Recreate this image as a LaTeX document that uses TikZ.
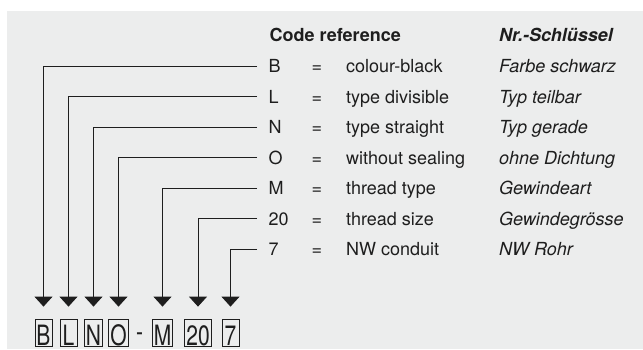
\documentclass[tikz,border=0pt]{standalone}
\usepackage{fontspec}
\setmainfont{TeX Gyre Heros}
\newfontfamily\boxfont[FakeStretch=0.75]{TeX Gyre Heros}
\usepackage{xcolor}
\usepackage{tikz}
\usetikzlibrary{arrows.meta, positioning}
\definecolor{panelgray}{RGB}{236,237,237}
\definecolor{inkgray}{RGB}{30,30,30}
\tikzstyle{code} = [anchor=base west, inner sep=0pt, outer xsep=11.5pt, text height=12.8pt, text depth=0pt, text=inkgray, font=\fontsize{18}{20}\selectfont]
\tikzstyle{eq} = [anchor=base, inner sep=0pt, text=inkgray, font=\fontsize{18}{20}\selectfont]
\tikzstyle{desc} = [anchor=base west, inner sep=0pt, text=inkgray, font=\fontsize{18}{20}\selectfont]
\tikzstyle{transl} = [anchor=base west, inner sep=0pt, text=inkgray, font=\fontsize{18}{20}\selectfont\itshape]
\tikzstyle{head} = [anchor=base west, inner sep=0pt, text=inkgray, font=\fontsize{18}{20}\selectfont\bfseries]
\tikzstyle{keybox} = [draw=inkgray, line width=0.8pt, inner xsep=1.5pt, inner ysep=0pt, minimum width=17pt, text height=25.7pt, text depth=1.7pt, text=inkgray, font=\boxfont\fontsize{28}{28}\selectfont]
\tikzstyle{arrow} = [draw=inkgray, line width=0.9pt, -{Triangle[width=18pt,length=10pt]}, shorten >=12.3pt]

\begin{document}
\begin{tikzpicture}[x=1pt, y=-1pt]
\useasboundingbox (0,0) rectangle (643,349);
\fill[panelgray] (7,11) rectangle (643,349);

% Heading
\node (hcode) [head] at (269.5,41.5) {Code reference};
\node (hkey) [head] at (499,41.5) {\itshape Nr.-Schlüssel};

% Nodes
\node (kB) [code] at (257,72.5) {B};
\node (kL) [code] at (257,103) {L};
\node (kN) [code] at (257,133.5) {N};
\node (kO) [code] at (257,164) {O};
\node (kM) [code] at (257,194.5) {M};
\node (k20) [code] at (257,225) {20};
\node (k7) [code] at (257,255.5) {7};

\node (eB) [eq] at (317,72.5) {=};
\node (eL) [eq] at (317,103) {=};
\node (eN) [eq] at (317,133.5) {=};
\node (eO) [eq] at (317,164) {=};
\node (eM) [eq] at (317,194.5) {=};
\node (e20) [eq] at (317,225) {=};
\node (e7) [eq] at (317,255.5) {=};

\node (dB) [desc] at (346,72.5) {colour-black};
\node (dL) [desc] at (346,103) {type divisible};
\node (dN) [desc] at (346,133.5) {type straight};
\node (dO) [desc] at (346,164) {without sealing};
\node (dM) [desc] at (346,194.5) {thread type};
\node (d20) [desc] at (346,225) {thread size};
\node (d7) [desc] at (346,255.5) {NW conduit};

\node (tB) [transl] at (499,72.5) {Farbe schwarz};
\node (tL) [transl] at (499,103) {Typ teilbar};
\node (tN) [transl] at (499,133.5) {Typ gerade};
\node (tO) [transl] at (499,164) {ohne Dichtung};
\node (tM) [transl] at (499,194.5) {Gewindeart};
\node (t20) [transl] at (499,225) {Gewindegrösse};
\node (t7) [transl] at (499,255.5) {NW Rohr};

% Code boxes
\node (bB) [keybox] at (43.5,333) {B};
\node (bL) [keybox] at (68.5,333) {L};
\node (bN) [keybox] at (93.5,333) {N};
\node (bO) [keybox] at (118.5,333) {O};
\node (dash) [anchor=base, inner sep=0pt, text=inkgray, font=\boxfont\fontsize{28}{28}\selectfont] at (139.5,341) {-};
\node (bM) [keybox] at (162.5,333) {M};
\node (b20) [keybox] at (198,333) {20};
\node (b7) [keybox] at (230.5,333) {7};

% Paths
\draw [arrow] (kB.west) -| (bB.north);
\draw [arrow] (kL.west) -| (bL.north);
\draw [arrow] (kN.west) -| (bN.north);
\draw [arrow] (kO.west) -| (bO.north);
\draw [arrow] (kM.west) -| (bM.north);
\draw [arrow] (k20.west) -| (b20.north);
\draw [arrow] (k7.west) -| (b7.north);

\end{tikzpicture}
\end{document}
